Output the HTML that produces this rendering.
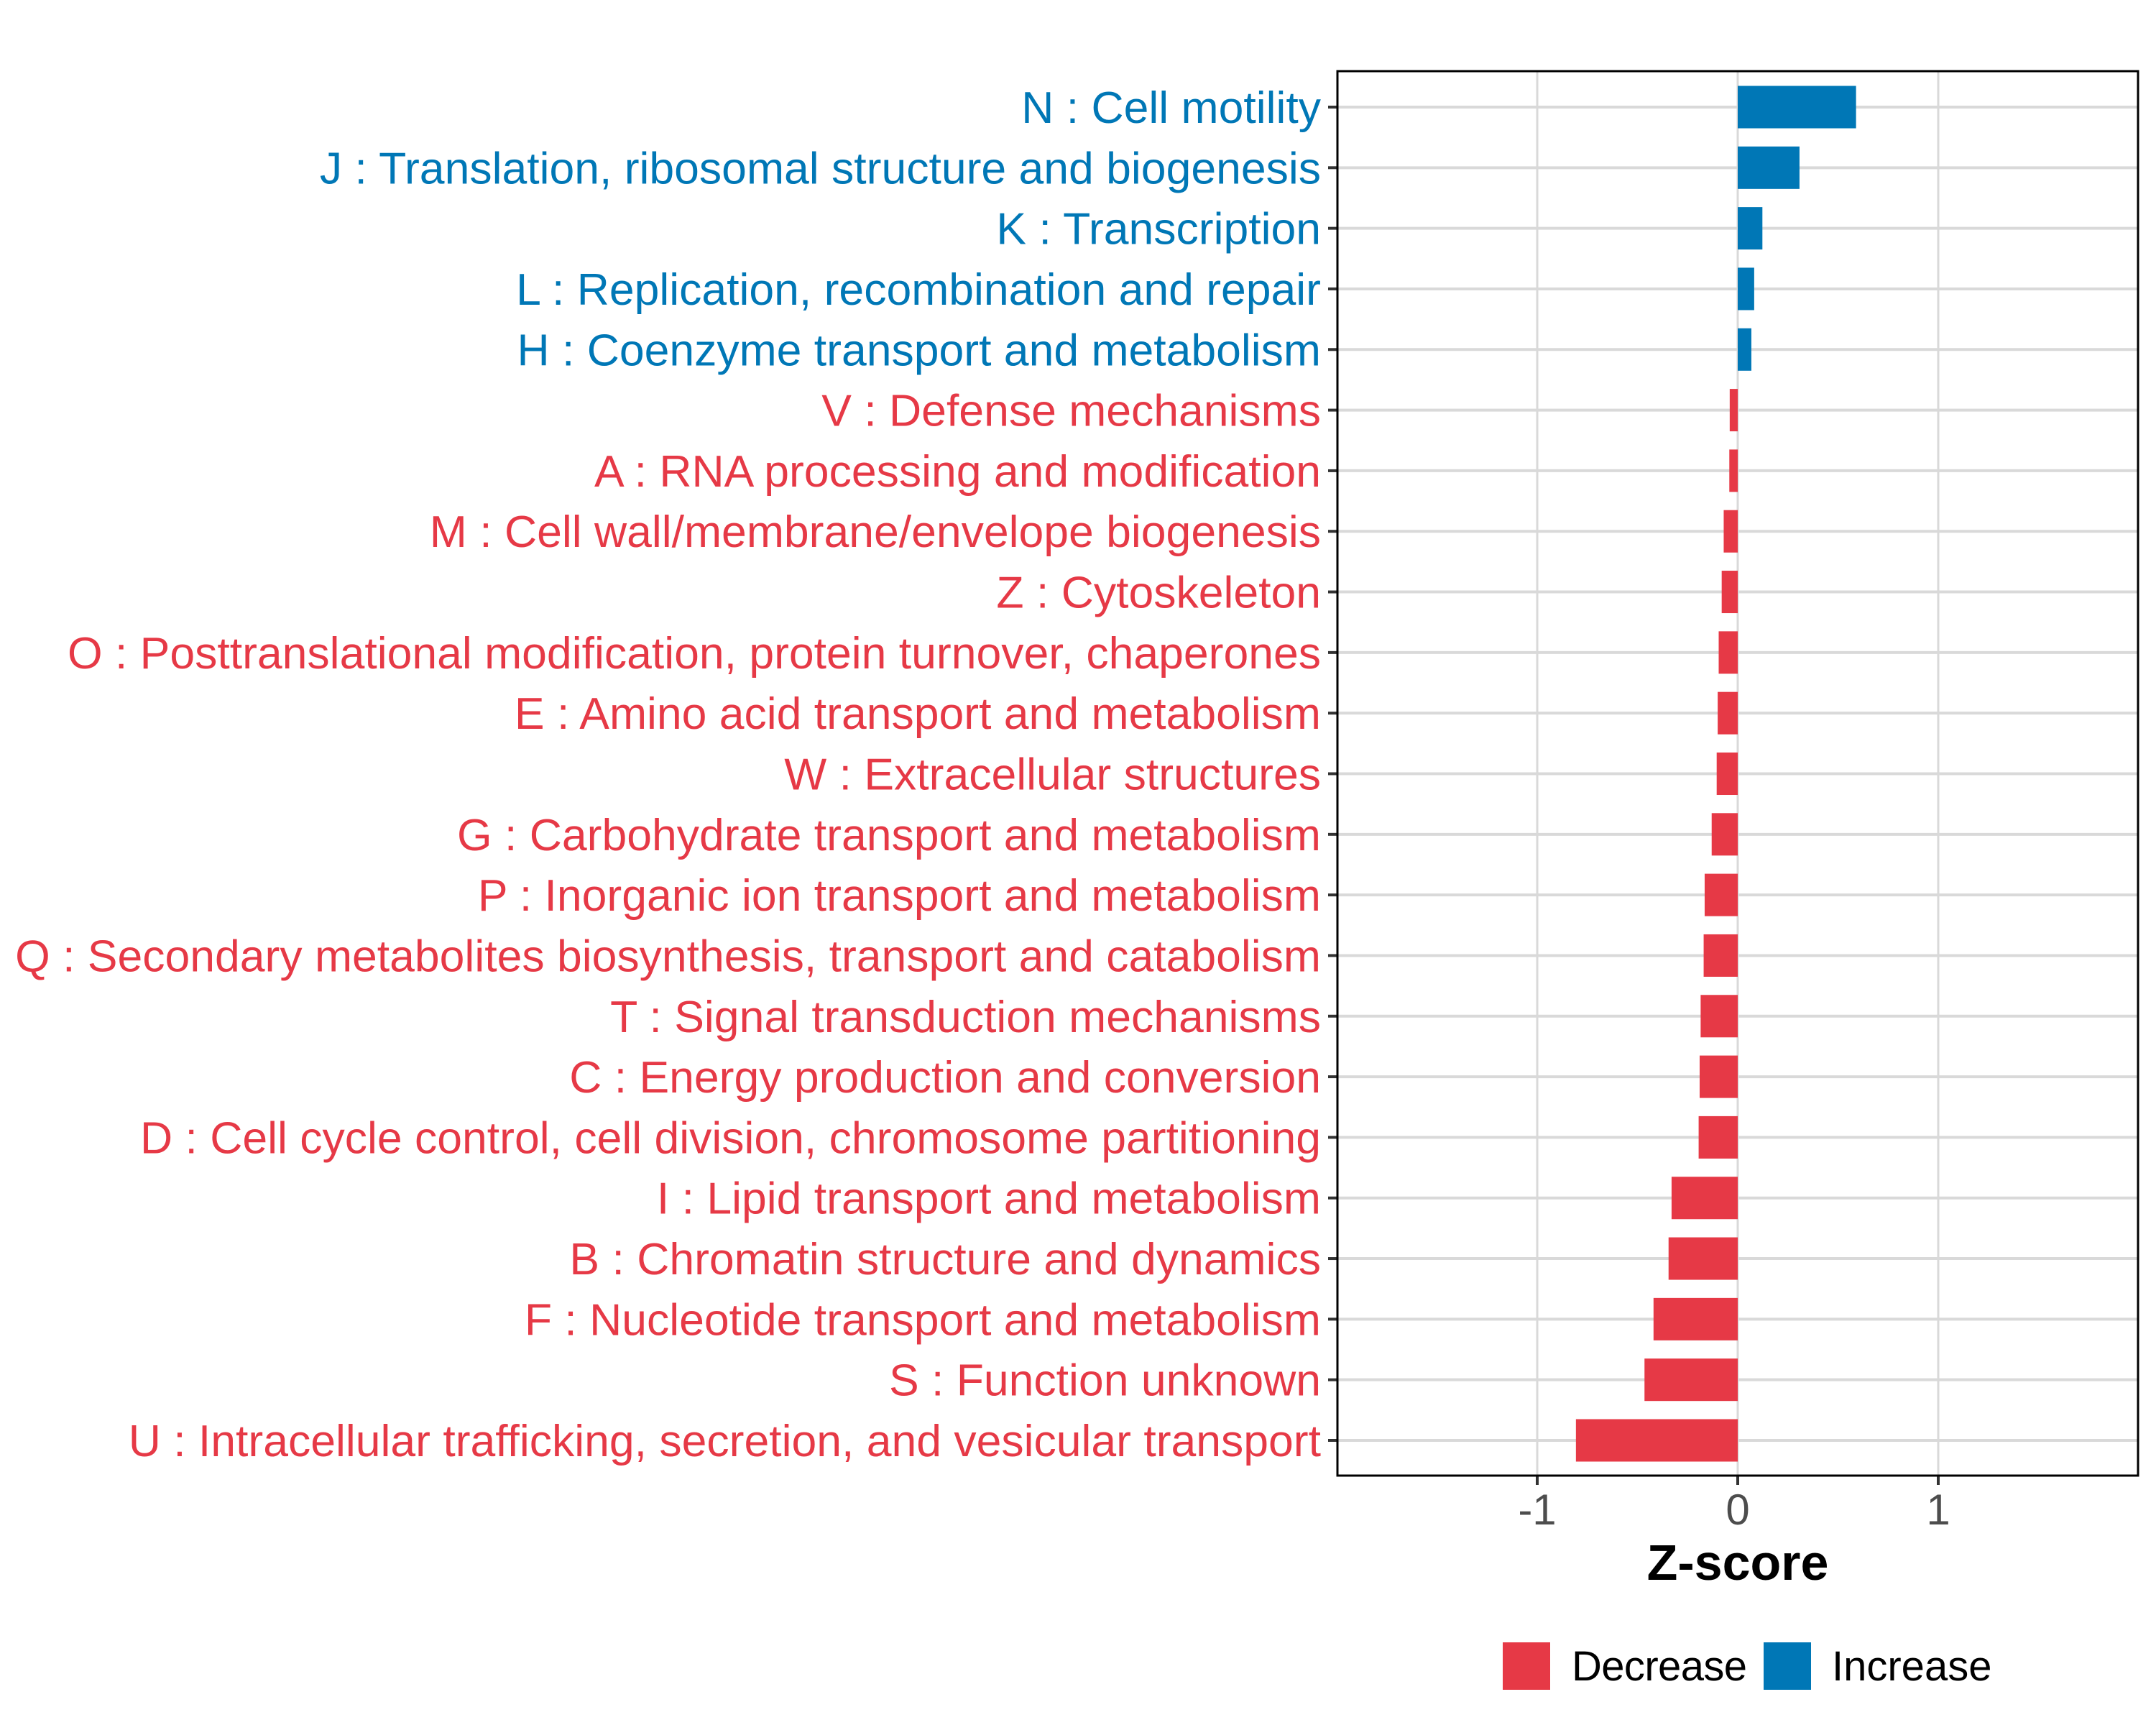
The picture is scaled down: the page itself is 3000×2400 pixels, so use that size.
<!DOCTYPE html>
<html><head><meta charset="utf-8"><style>
html,body{margin:0;padding:0;background:#fff;}
svg{display:block;font-family:"Liberation Sans",Arial,sans-serif;}
</style></head><body>
<svg id="chart" width="3000" height="2400" viewBox="0 0 3000 2400" xmlns="http://www.w3.org/2000/svg">
<rect width="3000" height="2400" fill="#fff"/>
<g id="grid"></g>
<g id="bars"></g>
<g id="ylabels"></g>
<g id="xaxis"></g>
<rect x="1861" y="99" width="1114" height="1954" fill="none" stroke="#000" stroke-width="3"/>
<text x="2418" y="2198" font-size="70" font-weight="bold" text-anchor="middle">Z-score</text>
<g>
<rect x="2091" y="2285" width="66" height="66" fill="#E63946"/>
<text x="2187" y="2338" font-size="58" textLength="244">Decrease</text>
<rect x="2454" y="2285" width="66" height="66" fill="#0077B6"/>
<text x="2549" y="2338" font-size="58">Increase</text>
</g>
</svg>
<script>
const categories = ["N : Cell motility","J : Translation, ribosomal structure and biogenesis","K : Transcription","L : Replication, recombination and repair","H : Coenzyme transport and metabolism","V : Defense mechanisms","A : RNA processing and modification","M : Cell wall/membrane/envelope biogenesis","Z : Cytoskeleton","O : Posttranslational modification, protein turnover, chaperones","E : Amino acid transport and metabolism","W : Extracellular structures","G : Carbohydrate transport and metabolism","P : Inorganic ion transport and metabolism","Q : Secondary metabolites biosynthesis, transport and catabolism","T : Signal transduction mechanisms","C : Energy production and conversion","D : Cell cycle control, cell division, chromosome partitioning","I : Lipid transport and metabolism","B : Chromatin structure and dynamics","F : Nucleotide transport and metabolism","S : Function unknown","U : Intracellular trafficking, secretion, and vesicular transport"];
const zscores = [0.59,0.308,0.123,0.082,0.068,-0.04,-0.042,-0.07,-0.08,-0.095,-0.1,-0.105,-0.13,-0.165,-0.17,-0.185,-0.19,-0.195,-0.33,-0.345,-0.42,-0.465,-0.807];
const xTicks = [-1,0,1];
const xTickLabels = ["-1","0","1"];

const NS="http://www.w3.org/2000/svg";
const xScale = v => 2418 + 279*v;
const rowTop = 149, rowStep = (2004-149)/22;
const yScale = i => rowTop + i*rowStep;
const barH = rowStep*0.7;
const colorInc="#0077B6", colorDec="#E63946";
function mk(tag, attrs, parent){const e=document.createElementNS(NS,tag);for(const k in attrs)e.setAttribute(k,attrs[k]);parent.appendChild(e);return e;}
const grid=document.getElementById('grid'), bars=document.getElementById('bars'), yl=document.getElementById('ylabels'), xa=document.getElementById('xaxis');
categories.forEach((c,i)=>{
  const y=yScale(i);
  const gl=mk('line',{x1:1861,x2:2975,y1:y,y2:y,stroke:'#d9d9d9','stroke-width':4},grid);
  
  
});
xTicks.forEach(t=>{
  const gl=mk('line',{x1:xScale(t),x2:xScale(t),y1:99,y2:2053,stroke:'#d9d9d9','stroke-width':3},grid);
  
  
});
categories.forEach((c,i)=>{
  const v=zscores[i], y=yScale(i);
  const col = v>=0?colorInc:colorDec;
  const x0=Math.min(xScale(0),xScale(v)), w=Math.abs(xScale(v)-xScale(0));
  const r=mk('rect',{x:x0,y:y-barH/2,width:w,height:barH,fill:col},bars);
  
  
  const tk=mk('line',{x1:1848,x2:1861,y1:y,y2:y,stroke:'#333','stroke-width':4},yl);
  
  
  const t=mk('text',{x:1838,y:y+22,'font-size':62.5,'text-anchor':'end',fill:col},yl);
  t.textContent=c;
  
  
});
xTicks.forEach((t,i)=>{
  const x=xScale(t);
  const tk=mk('line',{x1:x,x2:x,y1:2053,y2:2066,stroke:'#333','stroke-width':4},xa);
  
  
  const tx=mk('text',{x:x,y:2121,'font-size':60,'text-anchor':'middle',fill:'#4d4d4d'},xa);
  tx.textContent=xTickLabels[i];
  
  
});
</script>
</body></html>
